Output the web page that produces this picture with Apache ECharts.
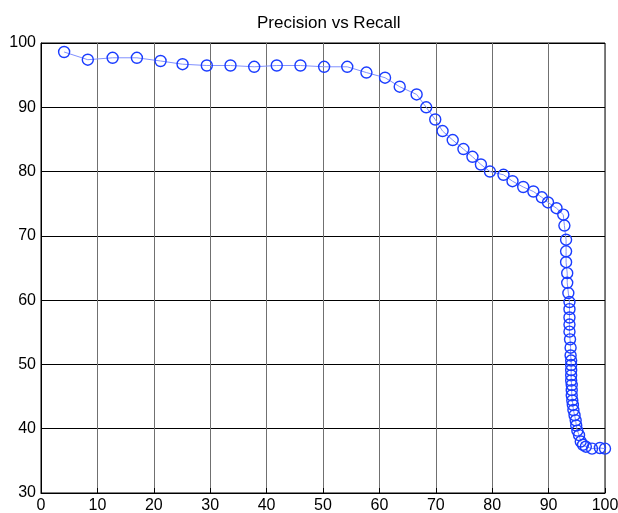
<!DOCTYPE html>
<html>
<head>
<meta charset="utf-8">
<script src="https://cdn.jsdelivr.net/npm/echarts@6/dist/echarts.min.js"></script>
<style>html,body{margin:0;padding:0;background:#fff}#c{width:618px;height:513px}</style>
</head>
<body>
<div id="c"></div>
<script>
const chartTitle = 'Precision vs Recall';
const xTicks = [0, 10, 20, 30, 40, 50, 60, 70, 80, 90, 100];
const yTicks = [30, 40, 50, 60, 70, 80, 90, 100];
const recall = [
  4.1, 8.3, 12.7, 17.0, 21.2, 25.1, 29.4, 33.6, 37.8, 41.8,
  46.0, 50.2, 54.3, 57.7, 61.0, 63.6, 66.6, 68.3, 69.9, 71.2,
  73.0, 74.9, 76.5, 78.0, 79.6, 82.0, 83.6, 85.5, 87.3, 88.8,
  89.9, 91.4, 92.6, 92.8, 93.1, 93.1, 93.1, 93.3, 93.3, 93.5,
  93.7, 93.7, 93.7, 93.7, 93.7, 93.8, 93.9, 93.9, 94.0, 94.0,
  94.0, 94.0, 94.0, 94.1, 94.1, 94.1, 94.2, 94.3, 94.4, 94.6,
  94.8, 94.9, 95.1, 95.4, 95.7, 96.1, 96.6, 97.7, 99.1, 100.0
];
const precision = [
  98.6, 97.4, 97.7, 97.7, 97.2, 96.7, 96.5, 96.5, 96.3, 96.5,
  96.5, 96.3, 96.3, 95.4, 94.6, 93.2, 92.0, 90.0, 88.1, 86.3,
  84.9, 83.5, 82.3, 81.1, 80.0, 79.5, 78.5, 77.6, 76.9, 76.0,
  75.2, 74.3, 73.3, 71.6, 69.4, 67.6, 65.9, 64.2, 62.7, 61.1,
  59.7, 58.6, 57.3, 56.2, 55.1, 53.9, 52.6, 51.4, 50.6, 49.9,
  49.1, 48.3, 47.5, 46.8, 46.0, 45.2, 44.4, 43.7, 42.9, 42.1,
  41.3, 40.5, 39.7, 39.0, 38.0, 37.5, 37.2, 36.9, 37.0, 36.9
];

const pts = recall.map((r, i) => [r, precision[i]]);
const font = '"Liberation Sans", Arial, Helvetica, sans-serif';
const chart = echarts.init(document.getElementById('c'), null, {renderer: 'canvas'});
chart.setOption({
  animation: false,
  backgroundColor: '#fff',
  title: {
    text: chartTitle, left: 252, top: 10,
    textStyle: {fontFamily: font, fontSize: 17, fontWeight: 'normal', color: '#000'}
  },
  grid: {left: 41, right: 13, top: 43, bottom: 20, outerBoundsMode: 'none', containLabel: false,
    show: true, borderColor: '#000', borderWidth: 1, backgroundColor: 'transparent'},
  xAxis: {
    type: 'value', min: xTicks[0], max: xTicks[xTicks.length - 1], interval: 10,
    axisLine: {show: true, onZero: false, lineStyle: {color: '#000', width: 1}},
    axisTick: {show: true, inside: true, length: 5, lineStyle: {color: '#000'}},
    axisLabel: {color: '#000', fontFamily: font, fontSize: 16, margin: 5, hideOverlap: false},
    splitLine: {show: true, lineStyle: {color: '#707070', width: 1}}
  },
  yAxis: {
    type: 'value', min: yTicks[0], max: yTicks[yTicks.length - 1], interval: 10,
    axisLine: {show: true, onZero: false, lineStyle: {color: '#000', width: 1}},
    axisTick: {show: true, inside: true, length: 5, lineStyle: {color: '#000'}},
    axisLabel: {color: '#000', fontFamily: font, fontSize: 16, margin: 5},
    splitLine: {show: true, lineStyle: {color: '#000', width: 1}}
  },
  series: [{
    type: 'line',
    data: pts,
    symbol: 'circle',
    symbolSize: 11,
    showAllSymbol: true,
    lineStyle: {color: '#8090ff', width: 1},
    itemStyle: {color: 'rgba(255,255,255,0)', borderColor: '#1a3cff', borderWidth: 1.4},
    emphasis: {disabled: true}
  }]
});
</script>
</body>
</html>
